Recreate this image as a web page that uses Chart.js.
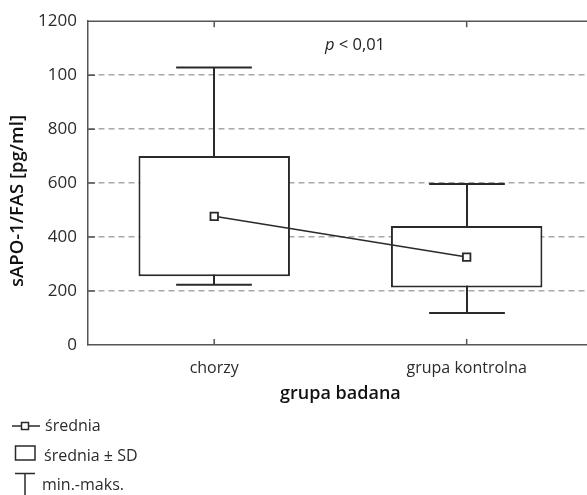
<!DOCTYPE html>
<html><head><meta charset="utf-8">
<script src="https://cdn.jsdelivr.net/npm/chart.js@4"></script>
<style>html,body{margin:0;padding:0;overflow:hidden;background:#fff}#wrap{width:600px;height:495px}</style>
</head><body><div id="wrap"><canvas id="c" width="600" height="495"></canvas></div>
<script>
const categories = ['chorzy', 'grupa kontrolna'];
const meanValues = [477, 326];
const sdLow = [255, 213];
const sdHigh = [700, 441];
const minValues = [223, 119];
const maxValues = [1028, 597];
const yTickValues = [0, 200, 400, 600, 800, 1000, 1200];
const yTickLabels = ['0', '200', '400', '600', '800', '100', '1200'];
const xAxisTitle = 'grupa badana';
const yAxisTitle = 'sAPO-1/FAS [pg/ml]';
const legendLabels = ['średnia', 'średnia ± SD', 'min.-maks.'];
const pLabel = ['p', ' < 0,01'];

const F = 'Open Sans';
const INK = '#2a2a2a';
const AX = '#555';
const TXT = '#2b2b2b';

const decor = {
  id: 'decor',
  beforeDatasetsDraw(chart) {
    const {ctx, scales: {x, y}} = chart;
    const boxMeta = chart.getDatasetMeta(1);
    ctx.save();
    ctx.strokeStyle = INK; ctx.lineWidth = 2;
    categories.forEach((c, i) => {
      const cx = Math.round(x.getPixelForValue(i));
      const half = boxMeta.data[i].width / 4;
      const yMin = y.getPixelForValue(minValues[i]);
      const yMax = y.getPixelForValue(maxValues[i]);
      ctx.beginPath();
      ctx.moveTo(cx, yMin); ctx.lineTo(cx, yMax);
      ctx.moveTo(cx - half, yMin); ctx.lineTo(cx + half, yMin);
      ctx.moveTo(cx - half, yMax); ctx.lineTo(cx + half, yMax);
      ctx.stroke();
    });
    ctx.restore();
  },
  afterDraw(chart) {
    const {ctx, chartArea: a, scales: {x, y}} = chart;
    ctx.save();
    // top frame line
    ctx.strokeStyle = AX; ctx.lineWidth = 1.5;
    ctx.beginPath(); ctx.moveTo(a.left, a.top); ctx.lineTo(a.right, a.top); ctx.stroke();
    // inward ticks
    ctx.beginPath();
    yTickValues.forEach(v => {
      if (v === 0 || v === 1200) return;
      const py = y.getPixelForValue(v);
      ctx.moveTo(a.left, py); ctx.lineTo(a.left + 7, py);
    });
    categories.forEach((c, i) => {
      const px = x.getPixelForValue(i);
      ctx.moveTo(px, a.top); ctx.lineTo(px, a.top + 6);
      ctx.moveTo(px, a.bottom); ctx.lineTo(px, a.bottom - 6);
    });
    ctx.stroke();

    // p-value
    ctx.fillStyle = '#222';
    ctx.textBaseline = 'middle';
    const fi = 'italic 16.5px "' + F + '"', fn = '16.5px "' + F + '"';
    ctx.font = fi;
    const w1 = ctx.measureText(pLabel[0]).width;
    ctx.font = fn;
    const w2 = ctx.measureText(pLabel[1]).width;
    const px0 = 355 - (w1 + w2) / 2;
    ctx.textAlign = 'left';
    ctx.font = fi;
    ctx.fillText(pLabel[0], px0, 45);
    ctx.font = fn;
    ctx.fillText(pLabel[1], px0 + w1, 45);

    // y title
    ctx.save();
    ctx.translate(18, 201);
    ctx.rotate(-Math.PI / 2);
    ctx.textAlign = 'center';
    ctx.fillStyle = '#111';
    ctx.font = '600 18.5px "' + F + '"';
    ctx.fillText(yAxisTitle, 0, 0);
    ctx.restore();

    // legend
    ctx.strokeStyle = INK; ctx.lineWidth = 1.5;
    ctx.beginPath(); ctx.moveTo(12, 426); ctx.lineTo(40, 426); ctx.stroke();
    ctx.fillStyle = '#fff';
    ctx.fillRect(21.5, 422.5, 7, 7);
    ctx.strokeRect(21.5, 422.5, 7, 7);
    ctx.strokeRect(15.5, 446, 19.5, 14);
    ctx.beginPath();
    ctx.moveTo(15, 473.5); ctx.lineTo(35, 473.5);
    ctx.moveTo(25, 473.5); ctx.lineTo(25, 495);
    ctx.stroke();
    ctx.fillStyle = TXT;
    ctx.font = '16px "' + F + '"';
    ctx.textAlign = 'left';
    ctx.fillText(legendLabels[0], 45, 426);
    ctx.fillText(legendLabels[1], 44, 456);
    ctx.fillText(legendLabels[2], 42, 485);
    ctx.restore();
  }
};

new Chart(document.getElementById('c'), {
  type: 'bar',
  data: {
    labels: categories,
    datasets: [
      { type: 'line', label: legendLabels[0], data: meanValues, borderColor: INK, borderWidth: 1.6,
        pointStyle: 'rect', pointRadius: 5.3, pointBackgroundColor: '#fff', pointBorderColor: INK,
        pointBorderWidth: 1.8, order: 0, tension: 0 },
      { type: 'bar', label: legendLabels[1], data: sdLow.map((v, i) => [v, sdHigh[i]]),
        backgroundColor: '#fff', borderColor: INK, borderWidth: 2, borderSkipped: false,
        barPercentage: 0.6, categoryPercentage: 1, order: 1 }
    ]
  },
  options: {
    responsive: false, animation: false, events: [],
    layout: { padding: { left: 0, top: 19, right: 4, bottom: 0 } },
    plugins: { legend: { display: false }, tooltip: { enabled: false } },
    scales: {
      x: {
        offset: true,
        grid: { display: false, drawTicks: false },
        border: { display: true, color: AX, width: 1.5 },
        ticks: { padding: 14, color: TXT, font: { family: F, size: 16 } },
        title: { display: true, text: xAxisTitle, color: '#111', font: { family: F, size: 18, weight: '600' },
                 padding: { top: 0, bottom: 90 } },
        afterFit(s) { s.height = 150; }
      },
      y: {
        min: 0, max: 1200,
        ticks: { stepSize: 200, padding: 11, color: TXT, font: { family: F, size: 17 },
                 callback: v => yTickLabels[yTickValues.indexOf(v)] },
        grid: { drawTicks: false, lineWidth: 1.5,
                color: c => (c.tick && (c.tick.value === 0 || c.tick.value === 1200)) ? 'rgba(0,0,0,0)' : '#a8a8a8' },
        border: { display: true, color: AX, width: 1.5, dash: [6, 4] },
        afterFit(s) { s.width = 88; }
      }
    }
  },
  plugins: [decor]
});
</script>
</body></html>
